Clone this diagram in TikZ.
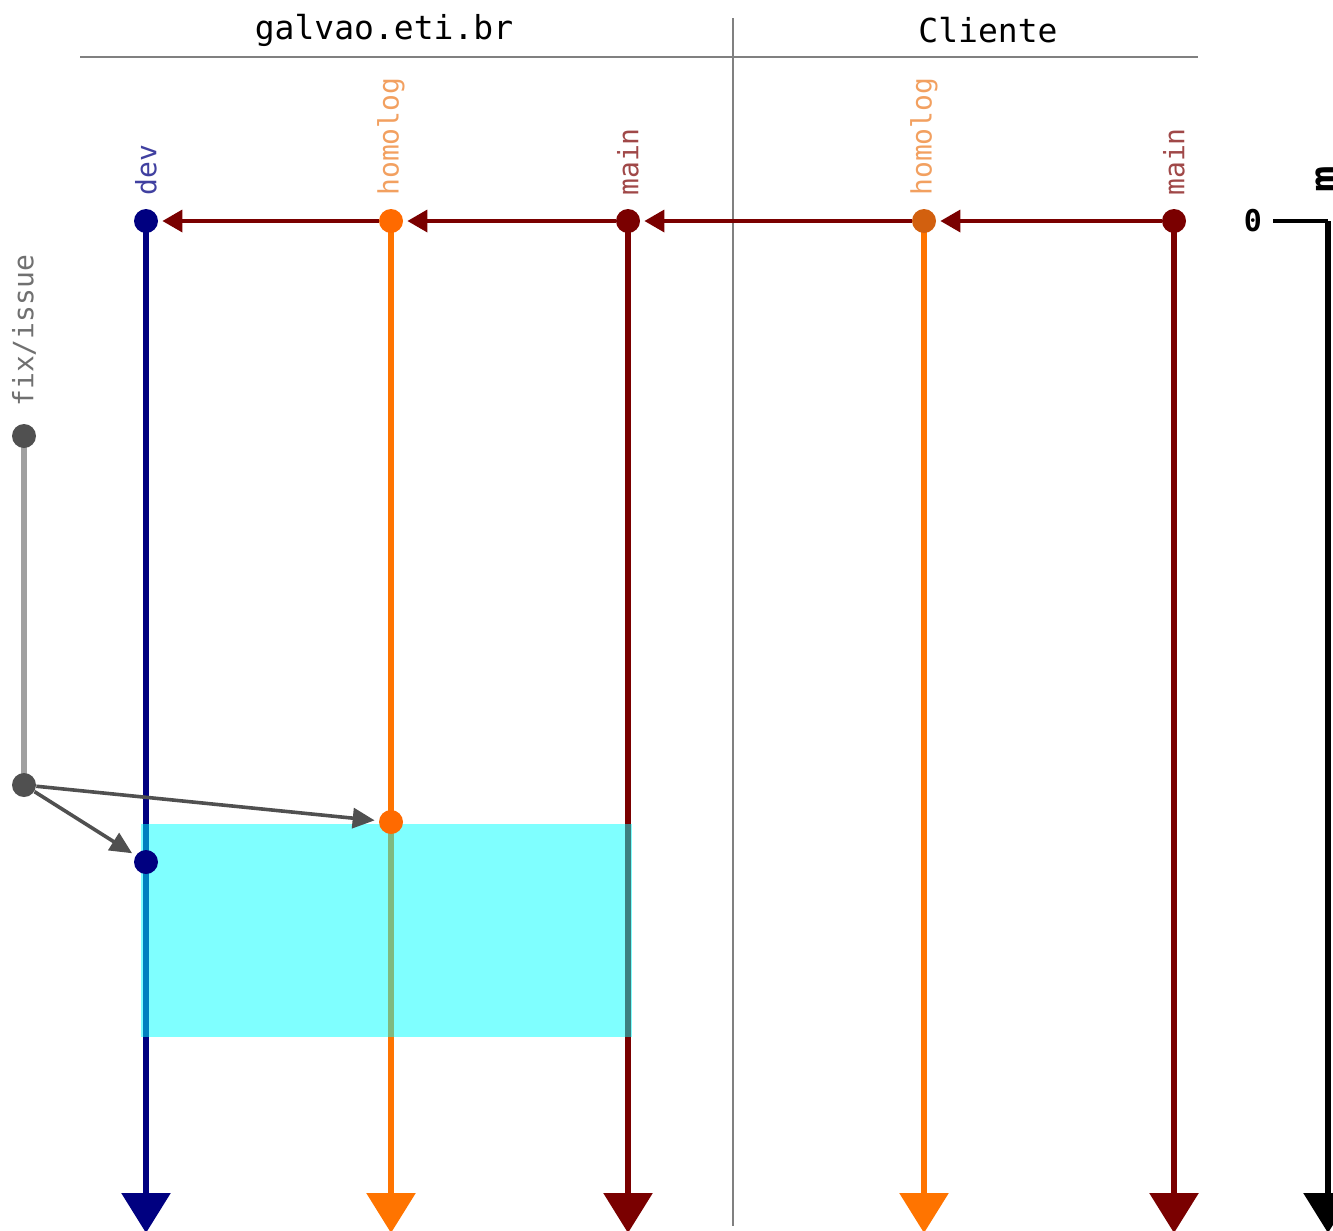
\documentclass[tikz,border=0pt]{standalone}
\usepackage{fontspec}
\setmonofont{DejaVu Sans Mono}
\usetikzlibrary{arrows.meta}
\definecolor{devc}{HTML}{000080}
\definecolor{devl}{HTML}{4040A0}
\definecolor{homc}{HTML}{FF7400}
\definecolor{homd}{HTML}{FF6A00}
\definecolor{homcl}{HTML}{D2600F}
\definecolor{homl}{HTML}{F2A060}
\definecolor{mainc}{HTML}{7A0000}
\definecolor{mainl}{HTML}{A04848}
\definecolor{fixc}{HTML}{A0A0A0}
\definecolor{fixd}{HTML}{505050}
\definecolor{fixl}{HTML}{707070}
\definecolor{sepc}{HTML}{808080}
\definecolor{hlc}{RGB}{0,255,255}
\tikzset{
  dotnode/.style={circle, inner sep=0pt, minimum size=12pt, draw=none},
  branch/.style={line width=3pt, -{Triangle[length=20pt,width=24pt]}},
  merge/.style={line width=1.8pt, mainc, -{Triangle[length=10pt,width=11pt]}, shorten >=2pt},
  fixarrow/.style={line width=1.8pt, fixd, -{Triangle[length=11pt,width=10pt]}, shorten >=2pt},
  lbl/.style={font=\ttfamily\fontsize{14}{16}\selectfont, inner sep=0pt, rotate=90, anchor=west},
  head/.style={font=\ttfamily\fontsize{16.5}{19}\selectfont, inner sep=0pt},
  sep/.style={line width=1.3pt, sepc}
}
\begin{document}
\begin{tikzpicture}[x=0.5pt,y=-0.5pt]
\useasboundingbox (0,0) rectangle (1333,1231);
\clip (0,0) rectangle (1333,1231);

% header
\node[head] (g) at (384,30) {galvao.eti.br};
\node[head] (c) at (988,30) {Cliente};
\coordinate (hl) at (80,57);
\coordinate (hr) at (1198,57);
\coordinate (vt) at (733,18);
\coordinate (vb) at (733,1226);
\draw[sep] (hl) -- (hr);
\draw[sep] (vt) -- (vb);

% bottom end points
\coordinate (devE) at (146,1233);
\coordinate (homE) at (391,1233);
\coordinate (mainE) at (628,1233);
\coordinate (chomE) at (924,1233);
\coordinate (cmainE) at (1174,1233);

% top points
\coordinate (devT) at (146,221);
\coordinate (homT) at (391,221);
\coordinate (mainT) at (628,221);
\coordinate (chomT) at (924,221);
\coordinate (cmainT) at (1174,221);

% branch lines
\draw[branch, devc] (devT) -- (devE);
\draw[branch, homc] (homT) -- (homE);
\draw[branch, mainc] (mainT) -- (mainE);
\draw[branch, homc] (chomT) -- (chomE);
\draw[branch, mainc] (cmainT) -- (cmainE);

% fix/issue branch
\coordinate (fixT) at (24,436);
\coordinate (fixB) at (24,785);
\draw[line width=3pt, fixc] (fixT) -- (fixB);

% highlighted interval
\fill[hlc, opacity=0.5] (141,824) rectangle (632,1037);

% dots
\node[dotnode, fill=devc] (dev0) at (devT) {};
\node[dotnode, fill=homd] (hom0) at (homT) {};
\node[dotnode, fill=mainc] (main0) at (mainT) {};
\node[dotnode, fill=homcl] (chom0) at (chomT) {};
\node[dotnode, fill=mainc] (cmain0) at (cmainT) {};
\node[dotnode, fill=fixd] (fix0) at (fixT) {};
\node[dotnode, fill=fixd] (fix1) at (fixB) {};
\node[dotnode, fill=homd] (hom1) at (391,822) {};
\node[dotnode, fill=devc] (dev1) at (146,862) {};

% labels
\node[lbl, text=devl] (ldev) at (146,196) {dev};
\node[lbl, text=homl] (lhom) at (391,196) {homolog};
\node[lbl, text=mainl] (lmain) at (628,196) {main};
\node[lbl, text=homl] (lchom) at (924,196) {homolog};
\node[lbl, text=mainl] (lcmain) at (1174,196) {main};
\node[lbl, text=fixl] (lfix) at (24,407) {fix/issue};

% merges
\draw[merge] (cmain0) -- (chom0);
\draw[merge] (chom0) -- (main0);
\draw[merge] (main0) -- (hom0);
\draw[merge] (hom0) -- (dev0);

% fix arrows
\draw[fixarrow] (fix1) -- (hom1);
\draw[fixarrow] (fix1) -- (dev1);

% time axis
\node[font=\ttfamily\bfseries\fontsize{15}{17}\selectfont, inner sep=0pt] (zero) at (1253,221) {0};
\coordinate (tick) at (1273,221);
\coordinate (ax0) at (1328,221);
\coordinate (axE) at (1328,1233);
\draw[line width=2pt] (tick) -- (ax0);
\draw[line width=3pt, -{Triangle[length=20pt,width=24pt]}] (ax0) -- (axE);
\node[font=\ttfamily\bfseries\fontsize{22}{24}\selectfont, inner sep=0pt, rotate=90, anchor=base west] (unit) at (1340,193) {m};
\end{tikzpicture}
\end{document}
